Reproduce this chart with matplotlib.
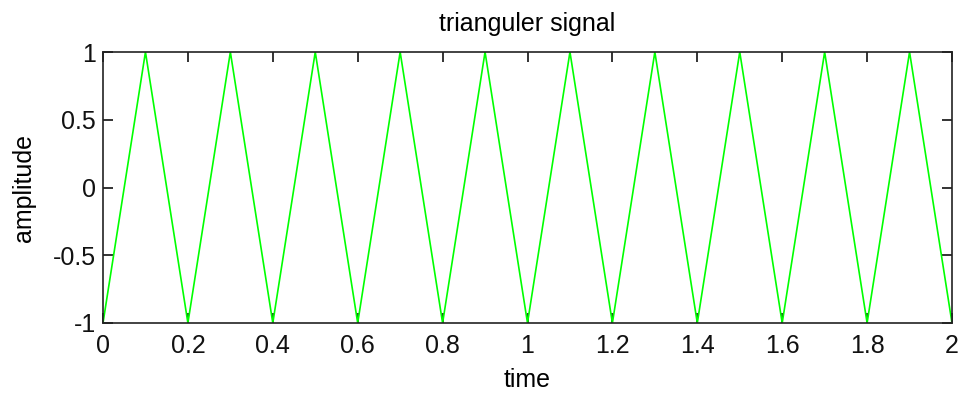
import matplotlib
matplotlib.use("Agg")
import matplotlib.pyplot as plt

plt.rcParams['font.family'] = ['Liberation Sans', 'DejaVu Sans']

# triangle wave vertices
time = [0.0, 0.1, 0.2, 0.3, 0.4, 0.5, 0.6, 0.7, 0.8, 0.9, 1.0,
        1.1, 1.2, 1.3, 1.4, 1.5, 1.6, 1.7, 1.8, 1.9, 2.0]
amplitude = [-1, 1, -1, 1, -1, 1, -1, 1, -1, 1, -1,
             1, -1, 1, -1, 1, -1, 1, -1, 1, -1]
xticks = [0, 0.2, 0.4, 0.6, 0.8, 1, 1.2, 1.4, 1.6, 1.8, 2]
yticks = [-1, -0.5, 0, 0.5, 1]

fig = plt.figure(figsize=(9.64, 3.96), dpi=100)
ax = fig.add_axes([103 / 964, 1 - 323 / 396, (952 - 103) / 964, (323 - 52) / 396])

ax.plot(time, amplitude, color='#00ff00', linewidth=1.2)

ax.set_xlim(0, 2)
ax.set_ylim(-1, 1)
ax.set_xticks(xticks)
ax.set_xticklabels([f'{v:g}' for v in xticks])
ax.set_yticks(yticks)
ax.set_yticklabels([f'{v:g}' for v in yticks])
ax.tick_params(direction='in', top=True, right=True, length=7, width=1.2,
               labelsize=18, pad=5, colors='#111111')
ax.tick_params(axis='x', pad=8)
for s in ax.spines.values():
    s.set_linewidth(1.2)
    s.set_color('#222222')

ax.set_title('trianguler signal', fontsize=18, pad=15)
ax.set_xlabel('time', fontsize=18, labelpad=7)
ax.set_ylabel('amplitude', fontsize=18, labelpad=12)

fig.savefig('out.png', dpi=100)
